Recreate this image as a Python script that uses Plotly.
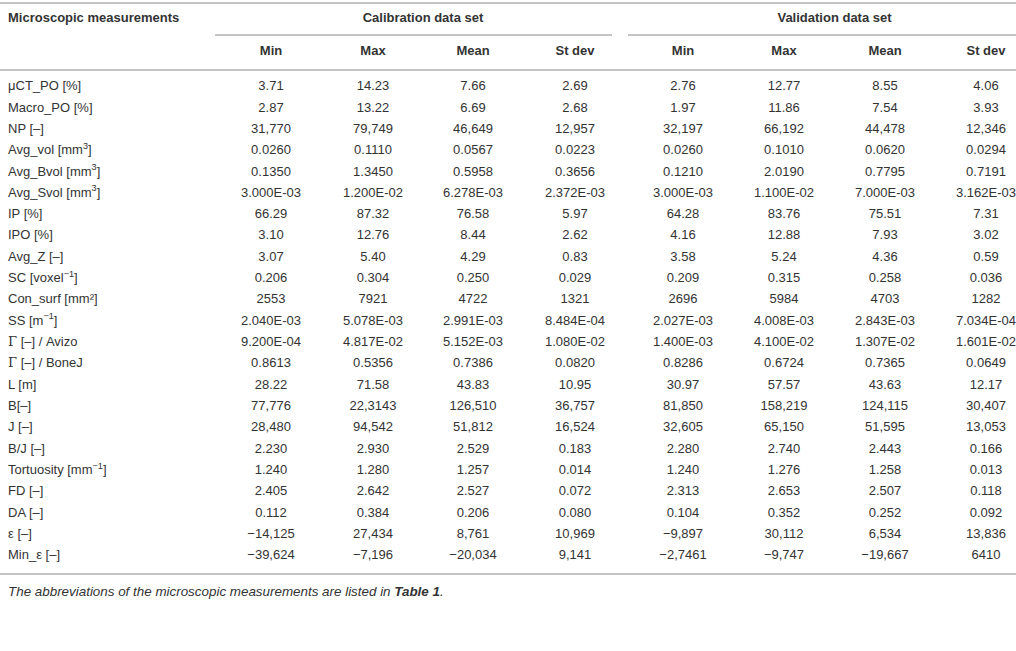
import plotly.graph_objects as go

measures = [
    "μCT_PO [%]", "Macro_PO [%]", "NP [–]", "Avg_vol [mm<sup>3</sup>]",
    "Avg_Bvol [mm<sup>3</sup>]", "Avg_Svol [mm<sup>3</sup>]", "IP [%]", "IPO [%]",
    "Avg_Z [–]", "SC [voxel<sup>−1</sup>]", "Con_surf [mm²]", "SS [m<sup>−1</sup>]",
    "<span style='font-family:DejaVu Serif'>Γ</span> [–] / Avizo",
    "<span style='font-family:DejaVu Serif'>Γ</span> [–] / BoneJ",
    "L [m]", "B[–]", "J [–]", "B/J [–]", "Tortuosity [mm<sup>−1</sup>]",
    "FD [–]", "DA [–]", "ε [–]", "Min_ε [–]",
]

cal_min = ["3.71", "2.87", "31,770", "0.0260", "0.1350", "3.000E-03", "66.29", "3.10",
           "3.07", "0.206", "2553", "2.040E-03", "9.200E-04", "0.8613", "28.22", "77,776",
           "28,480", "2.230", "1.240", "2.405", "0.112", "−14,125", "−39,624"]
cal_max = ["14.23", "13.22", "79,749", "0.1110", "1.3450", "1.200E-02", "87.32", "12.76",
           "5.40", "0.304", "7921", "5.078E-03", "4.817E-02", "0.5356", "71.58", "22,3143",
           "94,542", "2.930", "1.280", "2.642", "0.384", "27,434", "−7,196"]
cal_mean = ["7.66", "6.69", "46,649", "0.0567", "0.5958", "6.278E-03", "76.58", "8.44",
            "4.29", "0.250", "4722", "2.991E-03", "5.152E-03", "0.7386", "43.83", "126,510",
            "51,812", "2.529", "1.257", "2.527", "0.206", "8,761", "−20,034"]
cal_sd = ["2.69", "2.68", "12,957", "0.0223", "0.3656", "2.372E-03", "5.97", "2.62",
          "0.83", "0.029", "1321", "8.484E-04", "1.080E-02", "0.0820", "10.95", "36,757",
          "16,524", "0.183", "0.014", "0.072", "0.080", "10,969", "9,141"]
val_min = ["2.76", "1.97", "32,197", "0.0260", "0.1210", "3.000E-03", "64.28", "4.16",
           "3.58", "0.209", "2696", "2.027E-03", "1.400E-03", "0.8286", "30.97", "81,850",
           "32,605", "2.280", "1.240", "2.313", "0.104", "−9,897", "−2,7461"]
val_max = ["12.77", "11.86", "66,192", "0.1010", "2.0190", "1.100E-02", "83.76", "12.88",
           "5.24", "0.315", "5984", "4.008E-03", "4.100E-02", "0.6724", "57.57", "158,219",
           "65,150", "2.740", "1.276", "2.653", "0.352", "30,112", "−9,747"]
val_mean = ["8.55", "7.54", "44,478", "0.0620", "0.7795", "7.000E-03", "75.51", "7.93",
            "4.36", "0.258", "4703", "2.843E-03", "1.307E-02", "0.7365", "43.63", "124,115",
            "51,595", "2.443", "1.258", "2.507", "0.252", "6,534", "−19,667"]
val_sd = ["4.06", "3.93", "12,346", "0.0294", "0.7191", "3.162E-03", "7.31", "3.02",
          "0.59", "0.036", "1282", "7.034E-04", "1.601E-02", "0.0649", "12.17", "30,407",
          "13,053", "0.166", "0.013", "0.118", "0.092", "13,836", "6410"]

stat_names = ["Min", "Max", "Mean", "St dev"]
groups = ["Calibration data set", "Validation data set"]
footnote = "<i>The abbreviations of the microscopic measurements are listed in <b>Table 1</b>.</i>"

W, H = 1016, 651
TXT = "#333333"
RULE = "#c4c4c4"
FONT = "Liberation Sans, Arial, sans-serif"
FS = 13

# layout in pixel units, y grows downward
col_x = [271, 373, 473, 575, 683, 784, 885, 986]
row_y0, row_y1 = 87, 556
row_dy = (row_y1 - row_y0) / (len(measures) - 1)
row_y = [row_y0 + i * row_dy for i in range(len(measures))]
label_x = 8

columns = [cal_min, cal_max, cal_mean, cal_sd, val_min, val_max, val_mean, val_sd]

fig = go.Figure()


def text_trace(xs, ys, texts, pos="middle center", size=FS):
    fig.add_trace(go.Scatter(
        x=xs, y=ys, text=texts, mode="text", textposition=pos,
        textfont=dict(size=size, color=TXT, family=FONT),
        hoverinfo="skip", showlegend=False,
    ))


# row labels and values
text_trace([label_x] * len(measures), row_y, measures, "middle right")
for cx, vals in zip(col_x, columns):
    text_trace([cx] * len(vals), row_y, vals)

# header
hdr_y, sub_y = 19, 52
text_trace([label_x], [hdr_y], ["<b>Microscopic measurements</b>"], "middle right")
grp_x = [(col_x[0] + col_x[3]) / 2, (col_x[4] + col_x[7]) / 2]
text_trace(grp_x, [hdr_y] * 2, [f"<b>{g}</b>" for g in groups])
text_trace(col_x, [sub_y] * 8, [f"<b>{s}</b>" for s in stat_names * 2])

# footnote
text_trace([label_x], [593], [footnote], "middle right", size=13.4)


def rule(x0, x1, y):
    fig.add_shape(type="line", x0=x0, x1=x1, y0=y, y1=y, xref="x", yref="y",
                  line=dict(color=RULE, width=1.8), layer="below")


rule(0, W, 3)
rule(215, 612, 35)
rule(628, W, 35)
rule(0, W, 70)
rule(0, W, 574)

fig.update_xaxes(range=[0, W], visible=False, fixedrange=True)
fig.update_yaxes(range=[H, 0], visible=False, fixedrange=True)
fig.update_layout(
    width=W, height=H, margin=dict(l=0, r=0, t=0, b=0),
    paper_bgcolor="white", plot_bgcolor="white",
)

# drop the default page margin so the figure sits at the window corner
fig.write_html("out.html", config={"displayModeBar": False},
               post_script="document.body.style.margin='0';")
